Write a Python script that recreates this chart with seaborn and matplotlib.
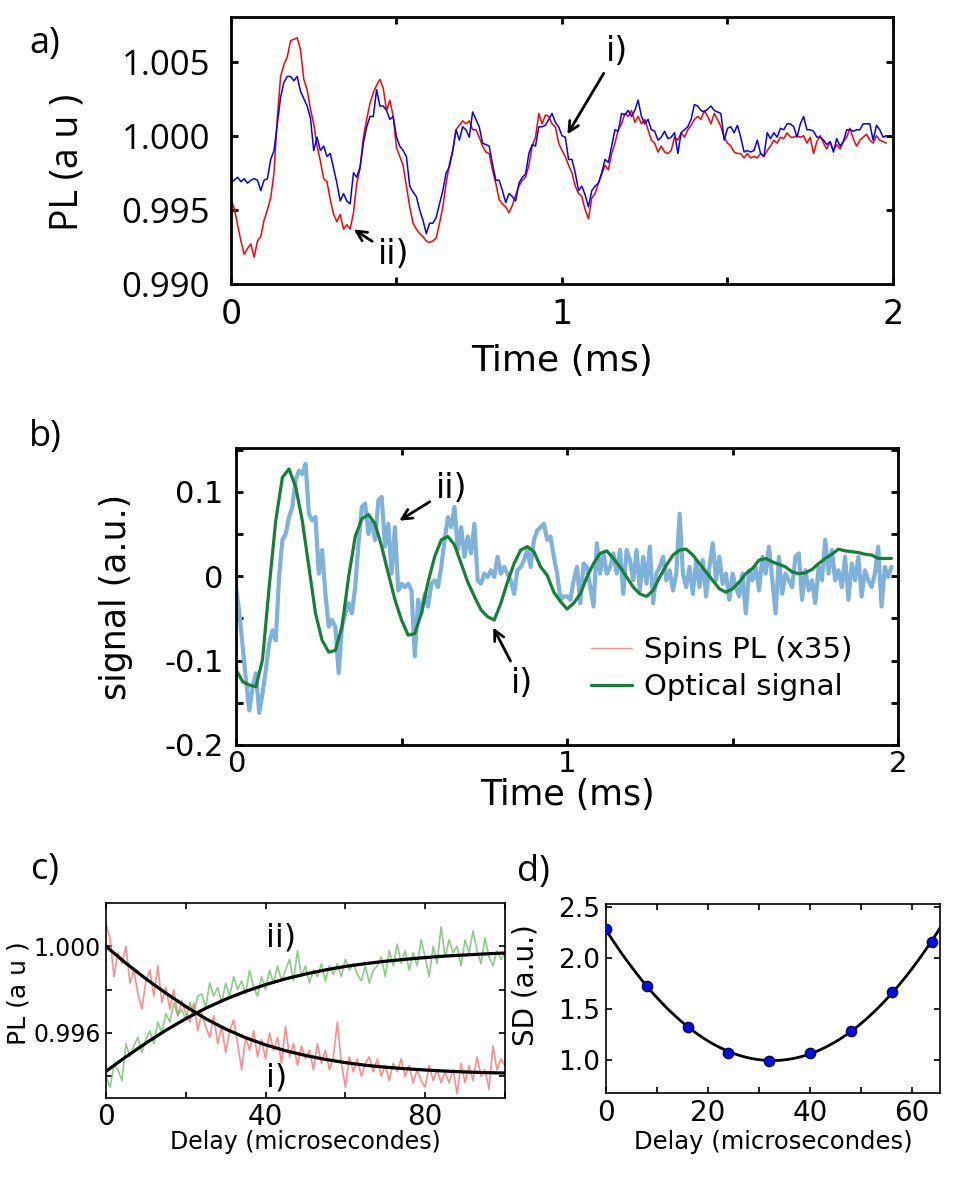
import numpy as np
import matplotlib
matplotlib.use("Agg")
import matplotlib.pyplot as plt
import seaborn as sns
from matplotlib.lines import Line2D

# ---------------- data ----------------
# panel a: PL vs time (ms), 0.01 ms step
time_a = np.round(np.arange(199) * 0.01, 2)
red_a = [
    0.9957, 0.9951, 0.9940, 0.9929, 0.9920, 0.9924, 0.9927, 0.9918, 0.9929, 0.9932,
    0.9943, 0.9950, 0.9958, 0.9975, 1.0012, 1.0040, 1.0048, 1.0053, 1.0064, 1.0065,
    1.0066, 1.0058, 1.0038, 1.0031, 1.0018, 1.0008, 0.9993, 0.9983, 0.9971, 0.9969,
    0.9957, 0.9947, 0.9942, 0.9947, 0.9937, 0.9940, 0.9937, 0.9948, 0.9968, 0.9978,
    0.9999, 1.0011, 1.0022, 1.0029, 1.0034, 1.0038, 1.0032, 1.0017, 1.0024, 1.0013,
    0.9992, 0.9986, 0.9980, 0.9966, 0.9952, 0.9941, 0.9937, 0.9934, 0.9932, 0.9929,
    0.9928, 0.9929, 0.9931, 0.9941, 0.9952, 0.9968, 0.9981, 0.9990, 1.0004, 1.0007,
    1.0010, 1.0008, 1.0010, 1.0004, 1.0004, 0.9999, 0.9993, 0.9989, 0.9988, 0.9977,
    0.9968, 0.9957, 0.9954, 0.9952, 0.9948, 0.9953, 0.9960, 0.9966, 0.9970, 0.9972,
    0.9980, 0.9993, 0.9999, 1.0015, 1.0008, 1.0014, 1.0013, 1.0008, 1.0006, 0.9995,
    0.9990, 0.9986, 0.9980, 0.9975, 0.9966, 0.9961, 0.9959, 0.9950, 0.9944, 0.9958,
    0.9961, 0.9968, 0.9974, 0.9980, 0.9977, 0.9988, 0.9995, 1.0004, 1.0008, 1.0015,
    1.0013, 1.0017, 1.0009, 1.0013, 1.0008, 1.0011, 1.0004, 0.9997, 0.9995, 0.9989,
    0.9993, 0.9989, 0.9988, 0.9990, 0.9999, 0.9997, 1.0002, 0.9999, 1.0004, 1.0007,
    1.0011, 1.0013, 1.0011, 1.0017, 1.0013, 1.0008, 1.0015, 1.0011, 1.0006, 0.9999,
    0.9995, 0.9993, 0.9989, 0.9988, 0.9988, 0.9985, 0.9988, 0.9985, 0.9986, 0.9985,
    0.9988, 0.9986, 0.9990, 0.9993, 0.9997, 0.9995, 0.9999, 0.9998, 1.0002, 0.9999,
    0.9999, 1.0000, 0.9999, 1.0000, 0.9995, 0.9999, 0.9988, 0.9996, 1.0000, 0.9995,
    0.9991, 0.9996, 0.9990, 0.9994, 0.9991, 0.9996, 0.9999, 1.0005, 0.9998, 0.9993,
    0.9997, 0.9999, 1.0001, 0.9997, 0.9995, 1.0000, 0.9997, 0.9996, 0.9995,
]
blue_a = [
    0.9968, 0.9970, 0.9972, 0.9969, 0.9971, 0.9968, 0.9970, 0.9971, 0.9970, 0.9963,
    0.9970, 0.9971, 0.9984, 0.9990, 1.0008, 1.0026, 1.0036, 1.0040, 1.0040, 1.0037,
    1.0040, 1.0030, 1.0025, 1.0020, 1.0012, 0.9990, 0.9999, 0.9990, 0.9993, 0.9986,
    0.9988, 0.9978, 0.9968, 0.9956, 0.9961, 0.9956, 0.9954, 0.9975, 0.9972, 0.9979,
    0.9995, 1.0006, 1.0013, 1.0013, 1.0031, 1.0020, 1.0020, 1.0017, 1.0011, 1.0013,
    0.9999, 0.9993, 0.9990, 0.9986, 0.9966, 0.9962, 0.9959, 0.9950, 0.9943, 0.9934,
    0.9941, 0.9941, 0.9945, 0.9954, 0.9963, 0.9975, 0.9979, 0.9990, 1.0004, 0.9997,
    1.0006, 1.0004, 0.9999, 1.0016, 1.0011, 1.0006, 0.9995, 0.9994, 0.9993, 0.9981,
    0.9970, 0.9970, 0.9963, 0.9955, 0.9961, 0.9959, 0.9956, 0.9968, 0.9972, 0.9974,
    0.9988, 0.9994, 0.9993, 1.0006, 1.0006, 1.0007, 1.0011, 1.0015, 1.0009, 1.0006,
    1.0000, 0.9999, 0.9984, 0.9984, 0.9975, 0.9963, 0.9966, 0.9960, 0.9952, 0.9963,
    0.9966, 0.9968, 0.9975, 0.9984, 0.9982, 0.9993, 1.0004, 1.0003, 1.0015, 1.0014,
    1.0017, 1.0013, 1.0017, 1.0024, 1.0013, 1.0008, 1.0011, 1.0004, 1.0003, 0.9997,
    0.9999, 1.0003, 0.9998, 0.9999, 1.0002, 0.9988, 1.0002, 1.0004, 1.0006, 1.0011,
    1.0021, 1.0020, 1.0017, 1.0016, 1.0018, 1.0020, 1.0017, 1.0016, 1.0015, 0.9997,
    1.0005, 1.0006, 1.0002, 1.0007, 0.9999, 0.9989, 0.9990, 0.9989, 0.9990, 0.9997,
    0.9988, 0.9986, 1.0002, 0.9998, 1.0002, 0.9999, 1.0005, 1.0004, 1.0008, 1.0008,
    1.0006, 0.9999, 1.0008, 1.0013, 1.0004, 1.0004, 1.0003, 0.9999, 0.9999, 0.9997,
    0.9994, 0.9996, 0.9989, 0.9998, 0.9993, 0.9996, 1.0004, 1.0004, 1.0003, 1.0004,
    1.0004, 1.0008, 1.0008, 1.0008, 0.9997, 1.0007, 1.0004, 0.9999, 1.0000,
]

# panel b: signal vs time (ms)
time_b = np.round(np.arange(199) * 0.01, 2)
spins_b = [
    -0.013, -0.044, -0.084, -0.123, -0.159, -0.131, -0.115, -0.162, -0.139, -0.111,
    -0.080, -0.064, -0.076, -0.001, 0.043, 0.050, 0.070, 0.082, 0.114, 0.125,
    0.121, 0.133, 0.074, 0.066, 0.070, 0.003, 0.031, -0.021, -0.060, -0.052,
    -0.060, -0.115, -0.060, -0.044, -0.032, -0.044, -0.013, 0.039, 0.082, 0.086,
    0.050, 0.066, 0.043, 0.090, 0.094, 0.035, 0.062, 0.003, 0.058, -0.017,
    -0.009, -0.013, -0.009, -0.017, -0.095, -0.028, -0.044, -0.021, -0.036, -0.009,
    -0.005, -0.013, 0.011, 0.043, 0.070, 0.058, 0.082, 0.031, 0.058, 0.023,
    0.047, 0.027, 0.062, -0.005, -0.009, 0.003, -0.001, 0.007, -0.001, 0.023,
    0.003, 0.011, 0.003, -0.005, -0.021, 0.007, 0.011, 0.019, 0.031, 0.011,
    0.043, 0.054, 0.058, 0.062, 0.043, 0.047, 0.023, 0.003, -0.028, -0.024,
    -0.024, -0.028, -0.005, 0.011, -0.032, 0.015, 0.011, -0.013, -0.036, 0.039,
    0.003, 0.027, 0.003, 0.011, 0.027, 0.003, 0.031, -0.021, 0.031, 0.019,
    -0.005, 0.031, -0.017, 0.023, -0.009, 0.035, -0.032, 0.003, 0.011, 0.023,
    -0.005, 0.007, -0.017, 0.003, 0.074, 0.003, -0.013, 0.011, -0.021, 0.019,
    -0.013, 0.019, -0.024, 0.011, 0.039, -0.005, 0.023, -0.009, 0.003, -0.028,
    0.003, -0.013, -0.024, 0.003, -0.044, 0.007, -0.005, 0.011, -0.017, 0.023,
    0.003, 0.035, -0.005, -0.044, 0.023, -0.021, 0.003, -0.005, -0.013, 0.023,
    0.027, -0.028, 0.007, -0.017, -0.005, -0.032, 0.011, -0.005, 0.043, 0.003,
    0.031, -0.005, 0.007, -0.013, 0.023, -0.028, 0.015, -0.005, 0.023, -0.024,
    0.007, -0.005, -0.013, 0.003, 0.035, -0.036, 0.011, -0.001, 0.011,
]
time_opt = np.round(np.arange(100) * 0.02, 2)
optical_b = [
    -0.111, -0.125, -0.129, -0.131, -0.099, -0.013, 0.066, 0.117, 0.127, 0.106,
    0.066, 0.011, -0.044, -0.076, -0.090, -0.088, -0.060, -0.001, 0.047, 0.068,
    0.073, 0.062, 0.035, 0.003, -0.028, -0.052, -0.070, -0.068, -0.044, -0.007,
    0.023, 0.043, 0.047, 0.037, 0.015, -0.007, -0.024, -0.040, -0.048, -0.052,
    -0.032, -0.007, 0.015, 0.031, 0.035, 0.029, 0.011, 0.001, -0.019, -0.030,
    -0.039, -0.032, -0.021, -0.001, 0.015, 0.027, 0.030, 0.021, 0.011, -0.001,
    -0.013, -0.021, -0.024, -0.017, -0.001, 0.013, 0.025, 0.031, 0.032, 0.025,
    0.015, 0.005, -0.005, -0.015, -0.019, -0.015, -0.007, 0.003, 0.009, 0.019,
    0.021, 0.017, 0.014, 0.011, 0.005, 0.003, 0.004, 0.008, 0.015, 0.021,
    0.026, 0.032, 0.030, 0.029, 0.028, 0.026, 0.025, 0.021, 0.021, 0.021,
]

# panel c: PL vs delay (microseconds)
delay_c = np.arange(101)
red_c = [
    1.0010, 1.0004, 0.9986, 0.9997, 0.9992, 1.0000, 0.9983, 0.9989, 0.9978, 0.9971,
    0.9984, 0.9989, 0.9977, 0.9991, 0.9974, 0.9981, 0.9971, 0.9980, 0.9968, 0.9975,
    0.9969, 0.9965, 0.9974, 0.9961, 0.9969, 0.9963, 0.9958, 0.9968, 0.9955, 0.9963,
    0.9951, 0.9961, 0.9966, 0.9955, 0.9943, 0.9958, 0.9952, 0.9961, 0.9949, 0.9957,
    0.9948, 0.9960, 0.9952, 0.9958, 0.9946, 0.9963, 0.9949, 0.9955, 0.9945, 0.9954,
    0.9948, 0.9952, 0.9943, 0.9955, 0.9946, 0.9952, 0.9943, 0.9949, 0.9965, 0.9946,
    0.9935, 0.9949, 0.9942, 0.9948, 0.9940, 0.9946, 0.9949, 0.9942, 0.9948, 0.9940,
    0.9945, 0.9938, 0.9946, 0.9942, 0.9948, 0.9940, 0.9945, 0.9937, 0.9943, 0.9938,
    0.9935, 0.9945, 0.9938, 0.9943, 0.9937, 0.9942, 0.9937, 0.9943, 0.9932, 0.9946,
    0.9937, 0.9945, 0.9938, 0.9949, 0.9940, 0.9943, 0.9934, 0.9954, 0.9943, 0.9948,
    0.9945,
]
green_c = [
    0.9940, 0.9935, 0.9945, 0.9943, 0.9938, 0.9955, 0.9949, 0.9954, 0.9958, 0.9951,
    0.9957, 0.9961, 0.9955, 0.9965, 0.9960, 0.9969, 0.9965, 0.9974, 0.9968, 0.9971,
    0.9966, 0.9974, 0.9969, 0.9977, 0.9978, 0.9972, 0.9983, 0.9977, 0.9981, 0.9974,
    0.9983, 0.9977, 0.9986, 0.9980, 0.9984, 0.9978, 0.9989, 0.9981, 0.9977, 0.9986,
    0.9980, 0.9989, 0.9983, 0.9991, 0.9984, 0.9989, 0.9994, 0.9984, 0.9998, 0.9986,
    0.9991, 0.9983, 0.9989, 0.9986, 0.9992, 0.9984, 0.9991, 0.9987, 0.9992, 0.9986,
    0.9994, 0.9989, 0.9992, 0.9987, 0.9984, 0.9991, 0.9983, 0.9989, 0.9991, 0.9995,
    0.9986, 0.9998, 0.9991, 1.0001, 0.9992, 0.9998, 0.9989, 0.9997, 0.9991, 1.0003,
    0.9995, 0.9986, 1.0000, 0.9992, 1.0009, 0.9995, 1.0003, 0.9997, 1.0000, 0.9991,
    1.0003, 0.9997, 1.0007, 0.9998, 0.9992, 1.0004, 0.9995, 0.9991, 0.9998, 0.9994,
    0.9997,
]
delay_fit = [0, 5, 10, 15, 20, 25, 30, 35, 40, 45, 50, 55, 60, 65, 70, 75, 80, 85, 90, 95, 100]
fit_i = [1.00000, 0.99922, 0.99850, 0.99784, 0.99722, 0.99666, 0.99618, 0.99578, 0.99545,
         0.99518, 0.99496, 0.99478, 0.99463, 0.99451, 0.99442, 0.99435, 0.99429, 0.99424,
         0.99420, 0.99417, 0.99415]
fit_ii = [0.99423, 0.99490, 0.99553, 0.99612, 0.99666, 0.99714, 0.99756, 0.99792, 0.99823,
          0.99850, 0.99872, 0.99891, 0.99907, 0.99920, 0.99931, 0.99940, 0.99948, 0.99955,
          0.99960, 0.99965, 0.99969]

# panel d: SD vs delay
delay_d = [0, 8, 16, 24, 32, 40, 48, 56, 64]
sd_d = [2.28, 1.73, 1.33, 1.07, 0.99, 1.07, 1.29, 1.67, 2.16]

# ---------------- figure ----------------
sns.set_theme(style="ticks")
plt.rcParams["font.family"] = ["DejaVu Sans"]
plt.rcParams["text.color"] = "black"
plt.rcParams["axes.labelcolor"] = "black"
plt.rcParams["xtick.color"] = "black"
plt.rcParams["ytick.color"] = "black"

fig = plt.figure(figsize=(9.75, 11.83), dpi=100)
ax_a = fig.add_axes([0.2369, 0.7599, 0.6790, 0.2257])
ax_b = fig.add_axes([0.2421, 0.3703, 0.6790, 0.2511])
ax_c = fig.add_axes([0.1087, 0.0719, 0.4092, 0.1648])
ax_d = fig.add_axes([0.6215, 0.0761, 0.3426, 0.1598])


def frame(ax, lw, length):
    for s in ax.spines.values():
        s.set_linewidth(lw)
        s.set_color("black")
    ax.tick_params(direction="in", top=True, right=True, length=length, width=lw,
                   colors="black")


arrow = dict(arrowstyle="->", color="black", lw=2, mutation_scale=18)

# --- a ---
sns.lineplot(x=time_a, y=red_a, ax=ax_a, color="red", lw=1.1, estimator=None, sort=False)
sns.lineplot(x=time_a, y=blue_a, ax=ax_a, color="blue", lw=1.1, estimator=None, sort=False)
ax_a.set_xlim(0, 2)
ax_a.set_ylim(0.990, 1.008)
ax_a.set_xticks([0, 0.5, 1, 1.5, 2])
ax_a.set_xticklabels(["0", "", "1", "", "2"], fontsize=24)
ax_a.set_yticks([0.990, 0.995, 1.000, 1.005])
ax_a.set_yticklabels(["0.990", "0.995", "1.000", "1.005"], fontsize=25, fontfamily="Open Sans")
frame(ax_a, 2, 5)
ax_a.tick_params(axis="x", pad=10)
ax_a.tick_params(axis="y", pad=15)
ax_a.set_xlabel("Time (ms)", fontsize=26, va="top")
ax_a.xaxis.set_label_coords(0.5, -0.225)
ax_a.set_ylabel("PL (a u )", fontsize=27, fontfamily="Open Sans")
ax_a.yaxis.set_label_coords(-0.2175, 0.457)
ax_a.annotate("i)", xy=(1.012, 0.99993), xytext=(1.166, 1.0057), fontsize=24,
              ha="center", va="center", arrowprops=arrow)
ax_a.annotate("ii)", xy=(0.364, 0.99378), xytext=(0.491, 0.99196), fontsize=24,
              ha="center", va="center", arrowprops=arrow)

# --- b ---
sns.lineplot(x=time_b, y=spins_b, ax=ax_b, color="#7eb2db", lw=3, estimator=None, sort=False)
sns.lineplot(x=time_opt, y=optical_b, ax=ax_b, color="#168038", lw=2.3, estimator=None, sort=False)
ax_b.set_xlim(0, 2)
ax_b.set_ylim(-0.2, 0.152)
ax_b.set_xticks([0, 0.5, 1, 1.5, 2])
ax_b.set_xticklabels(["0", "", "1", "", "2"], fontsize=21)
ax_b.set_yticks([-0.2, -0.15, -0.1, -0.05, 0, 0.05, 0.1, 0.15])
ax_b.set_yticklabels(["-0.2", "", "-0.1", "", "0", "", "0.1", ""], fontsize=22)
frame(ax_b, 2, 5)
ax_b.tick_params(axis="x", pad=4)
ax_b.tick_params(axis="y", pad=9)
ax_b.set_xlabel("Time (ms)", fontsize=25, va="top")
ax_b.xaxis.set_label_coords(0.5, -0.112)
ax_b.set_ylabel("signal (a.u.)", fontsize=25)
ax_b.yaxis.set_label_coords(-0.156, 0.498)
ax_b.annotate("ii)", xy=(0.486, 0.064), xytext=(0.650, 0.104), fontsize=24,
              ha="center", va="center", arrowprops=arrow)
ax_b.annotate("i)", xy=(0.773, -0.058), xytext=(0.864, -0.127), fontsize=24,
              ha="center", va="center", arrowprops=arrow)
handles = [Line2D([], [], color="#ff9090", lw=1),
           Line2D([], [], color="#168038", lw=2.3)]
ax_b.legend(handles, ["Spins PL (x35)", "Optical signal"], loc="lower right",
            bbox_to_anchor=(0.97, 0.06), frameon=False, fontsize=21,
            handlelength=1.4, handletextpad=0.4, labelspacing=0.3)

# --- c ---
sns.lineplot(x=delay_c, y=red_c, ax=ax_c, color="#ff7070", alpha=0.8, lw=1.2,
             estimator=None, sort=False)
sns.lineplot(x=delay_c, y=green_c, ax=ax_c, color="#6fbf6f", alpha=0.8, lw=1.2,
             estimator=None, sort=False)
sns.lineplot(x=delay_fit, y=fit_i, ax=ax_c, color="black", lw=2.3, estimator=None, sort=False)
sns.lineplot(x=delay_fit, y=fit_ii, ax=ax_c, color="black", lw=2.3, estimator=None, sort=False)
ax_c.set_xlim(0, 100)
ax_c.set_ylim(0.993, 1.002)
ax_c.set_xticks([0, 20, 40, 60, 80, 100])
ax_c.set_xticklabels(["0", "", "40", "", "80", ""], fontsize=20)
ax_c.set_yticks([0.994, 0.996, 0.998, 1.000])
ax_c.set_yticklabels(["", "0.996", "", "1.000"], fontsize=17)
frame(ax_c, 1.2, 4)
ax_c.tick_params(axis="both", pad=4)
ax_c.set_xlabel("Delay (microsecondes)", fontsize=17, va="top")
ax_c.xaxis.set_label_coords(0.5, -0.165)
ax_c.set_ylabel("PL (a u )", fontsize=18)
ax_c.yaxis.set_label_coords(-0.19, 0.54)
ax_c.text(43.8, 1.00039, "ii)", fontsize=23, ha="center", va="center")
ax_c.text(42.8, 0.99394, "i)", fontsize=23, ha="center", va="center")

# --- d ---
ax_d.set_xlim(0, 65.5)
sns.regplot(x=delay_d, y=sd_d, ax=ax_d, order=2, ci=None, truncate=False, scatter=False,
            line_kws=dict(color="black", lw=2))
sns.scatterplot(x=delay_d, y=sd_d, ax=ax_d, color="#0010e0", edgecolor="#000050",
                s=55, linewidth=1, zorder=5)
ax_d.set_xlim(0, 65.5)
ax_d.set_ylim(0.68, 2.53)
ax_d.set_xticks([0, 10, 20, 30, 40, 50, 60])
ax_d.set_xticklabels(["0", "", "20", "", "40", "", "60"], fontsize=20)
ax_d.set_yticks([1.0, 1.5, 2.0, 2.5])
ax_d.set_yticklabels(["1.0", "1.5", "2.0", "2.5"], fontsize=19)
frame(ax_d, 1.2, 4)
ax_d.tick_params(axis="both", pad=4)
ax_d.set_xlabel("Delay (microsecondes)", fontsize=17.5, va="top")
ax_d.xaxis.set_label_coords(0.5, -0.196)
ax_d.set_ylabel("SD (a.u.)", fontsize=20)
ax_d.yaxis.set_label_coords(-0.198, 0.571)

# panel letters
for x, y, s in [(0.046, 0.963, "a)"), (0.046, 0.631, "b)"), (0.046, 0.2646, "c)"),
                (0.547, 0.263, "d)")]:
    fig.text(x, y, s, fontsize=26, fontfamily="Open Sans", ha="center", va="center")

fig.savefig("out.png", dpi=100)
